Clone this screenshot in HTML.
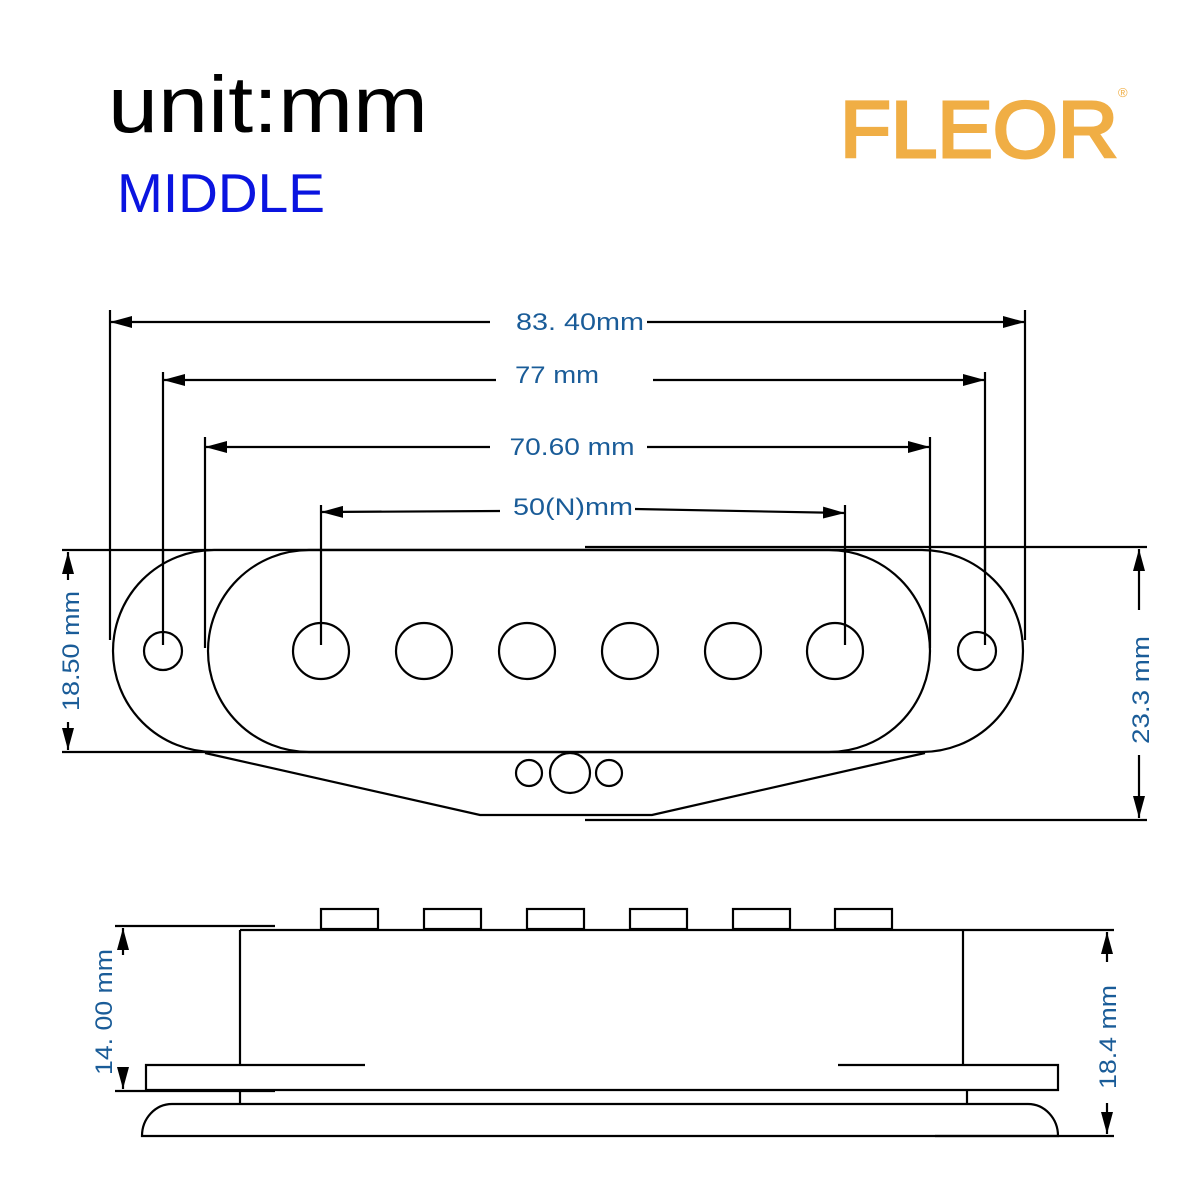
<!DOCTYPE html>
<html><head><meta charset="utf-8"><style>html,body{margin:0;padding:0;background:#fff}svg{display:block}</style></head>
<body>
<svg width="1200" height="1200" viewBox="0 0 1200 1200" xmlns="http://www.w3.org/2000/svg" font-family="Liberation Sans, sans-serif">
<defs>
<marker id="b" viewBox="0 0 10 10" refX="10" refY="5" markerWidth="22" markerHeight="12" markerUnits="userSpaceOnUse" orient="auto-start-reverse" preserveAspectRatio="none"><path d="M0,0 L10,5 L0,10 z" fill="#000"/></marker>
</defs>
<rect width="1200" height="1200" fill="#fff"/>
<text x="108" y="132" font-size="80" textLength="320" lengthAdjust="spacingAndGlyphs" fill="#000">unit:mm</text>
<text x="117" y="212" font-size="55" textLength="208" lengthAdjust="spacingAndGlyphs" fill="#0a14e0">MIDDLE</text>
<text x="840" y="157" font-size="80" textLength="278" lengthAdjust="spacingAndGlyphs" fill="#f0ae45" stroke="#f0ae45" stroke-width="3">FLEOR</text>
<text x="1118" y="97" font-size="13" fill="#f0ae45">®</text>

<g stroke="#000" stroke-width="2.2" fill="none">
<line x1="110" y1="310" x2="110" y2="640"/><line x1="1025" y1="310" x2="1025" y2="640"/>
<line x1="163" y1="372" x2="163" y2="645"/><line x1="985" y1="372" x2="985" y2="645"/>
<line x1="205" y1="437" x2="205" y2="648"/><line x1="930" y1="437" x2="930" y2="648"/>
<line x1="321" y1="505" x2="321" y2="645"/><line x1="845" y1="505" x2="845" y2="645"/>
<line x1="490" y1="322" x2="110" y2="322" marker-end="url(#b)"/><line x1="647" y1="322" x2="1025" y2="322" marker-end="url(#b)"/>
<line x1="496" y1="380" x2="163" y2="380" marker-end="url(#b)"/><line x1="653" y1="380" x2="985" y2="380" marker-end="url(#b)"/>
<line x1="490" y1="447" x2="205" y2="447" marker-end="url(#b)"/><line x1="647" y1="447" x2="930" y2="447" marker-end="url(#b)"/>
<line x1="500" y1="511" x2="321" y2="512" marker-end="url(#b)"/><line x1="635" y1="509" x2="845" y2="513" marker-end="url(#b)"/>
<line x1="62" y1="550" x2="900" y2="550"/><line x1="62" y1="752" x2="900" y2="752"/>
<line x1="585" y1="547" x2="1147" y2="547"/><line x1="585" y1="820" x2="1147" y2="820"/>
<path d="M214,550 L922,550 A101,101 0 0 1 922,752 L214,752 A101,101 0 0 1 214,550 Z" fill="#fff"/>
<path d="M309,550 L829,550 A101,101 0 0 1 829,752 L309,752 A101,101 0 0 1 309,550 Z"/>
<line x1="163" y1="550" x2="163" y2="645"/><line x1="985" y1="547" x2="985" y2="645"/>
<line x1="205" y1="550" x2="205" y2="648"/><line x1="930" y1="547" x2="930" y2="648"/>
<line x1="321" y1="550" x2="321" y2="645"/><line x1="845" y1="547" x2="845" y2="645"/>
<circle cx="163" cy="651" r="19"/><circle cx="977" cy="651" r="19"/>
<circle cx="321" cy="651" r="28"/><circle cx="424" cy="651" r="28"/><circle cx="527" cy="651" r="28"/>
<circle cx="630" cy="651" r="28"/><circle cx="733" cy="651" r="28"/><circle cx="835" cy="651" r="28"/>
<path d="M205,753 L480,815 L652,815 L925,753"/>
<circle cx="529" cy="773" r="13"/><circle cx="570" cy="773" r="20"/><circle cx="609" cy="773" r="13"/>
<line x1="68" y1="580" x2="68" y2="552" marker-end="url(#b)"/><line x1="68" y1="722" x2="68" y2="750" marker-end="url(#b)"/>
<line x1="1139" y1="610" x2="1139" y2="549" marker-end="url(#b)"/><line x1="1139" y1="755" x2="1139" y2="818" marker-end="url(#b)"/>

<rect x="321" y="909" width="57" height="20"/><rect x="424" y="909" width="57" height="20"/>
<rect x="527" y="909" width="57" height="20"/><rect x="630" y="909" width="57" height="20"/>
<rect x="733" y="909" width="57" height="20"/><rect x="835" y="909" width="57" height="20"/>
<line x1="115" y1="926" x2="275" y2="926"/>
<line x1="240" y1="930" x2="1114" y2="930"/>
<line x1="240" y1="930" x2="240" y2="1065"/><line x1="963" y1="930" x2="963" y2="1065"/>
<path d="M365,1065 L146,1065 L146,1090 L1058,1090 L1058,1065 L838,1065"/>
<line x1="115" y1="1091" x2="275" y2="1091"/>
<line x1="240" y1="1090" x2="240" y2="1104"/><line x1="967" y1="1090" x2="967" y2="1104"/>
<path d="M172,1104 L1028,1104 A30,32 0 0 1 1058,1136 L142,1136 A30,32 0 0 1 172,1104 Z"/>
<line x1="935" y1="1136" x2="1114" y2="1136"/>
<line x1="123" y1="955" x2="123" y2="928" marker-end="url(#b)"/><line x1="123" y1="1068" x2="123" y2="1089" marker-end="url(#b)"/>
<line x1="1107" y1="962" x2="1107" y2="932" marker-end="url(#b)"/><line x1="1107" y1="1103" x2="1107" y2="1134" marker-end="url(#b)"/>
</g>

<g fill="#1a5c98" font-size="24">
<text x="580" y="330" text-anchor="middle" textLength="128" lengthAdjust="spacingAndGlyphs">83. 40mm</text>
<text x="557" y="383" text-anchor="middle" textLength="84" lengthAdjust="spacingAndGlyphs">77 mm</text>
<text x="572" y="455" text-anchor="middle" textLength="125" lengthAdjust="spacingAndGlyphs">70.60 mm</text>
<text x="573" y="515" text-anchor="middle" textLength="120" lengthAdjust="spacingAndGlyphs">50(N)mm</text>
<text transform="translate(79,651) rotate(-90)" text-anchor="middle" textLength="120" lengthAdjust="spacingAndGlyphs">18.50 mm</text>
<text transform="translate(1149,690) rotate(-90)" text-anchor="middle" textLength="108" lengthAdjust="spacingAndGlyphs">23.3 mm</text>
<text transform="translate(112,1012) rotate(-90)" text-anchor="middle" textLength="126" lengthAdjust="spacingAndGlyphs">14. 00 mm</text>
<text transform="translate(1116,1037) rotate(-90)" text-anchor="middle" textLength="104" lengthAdjust="spacingAndGlyphs">18.4 mm</text>
</g>
</svg>
</body></html>
